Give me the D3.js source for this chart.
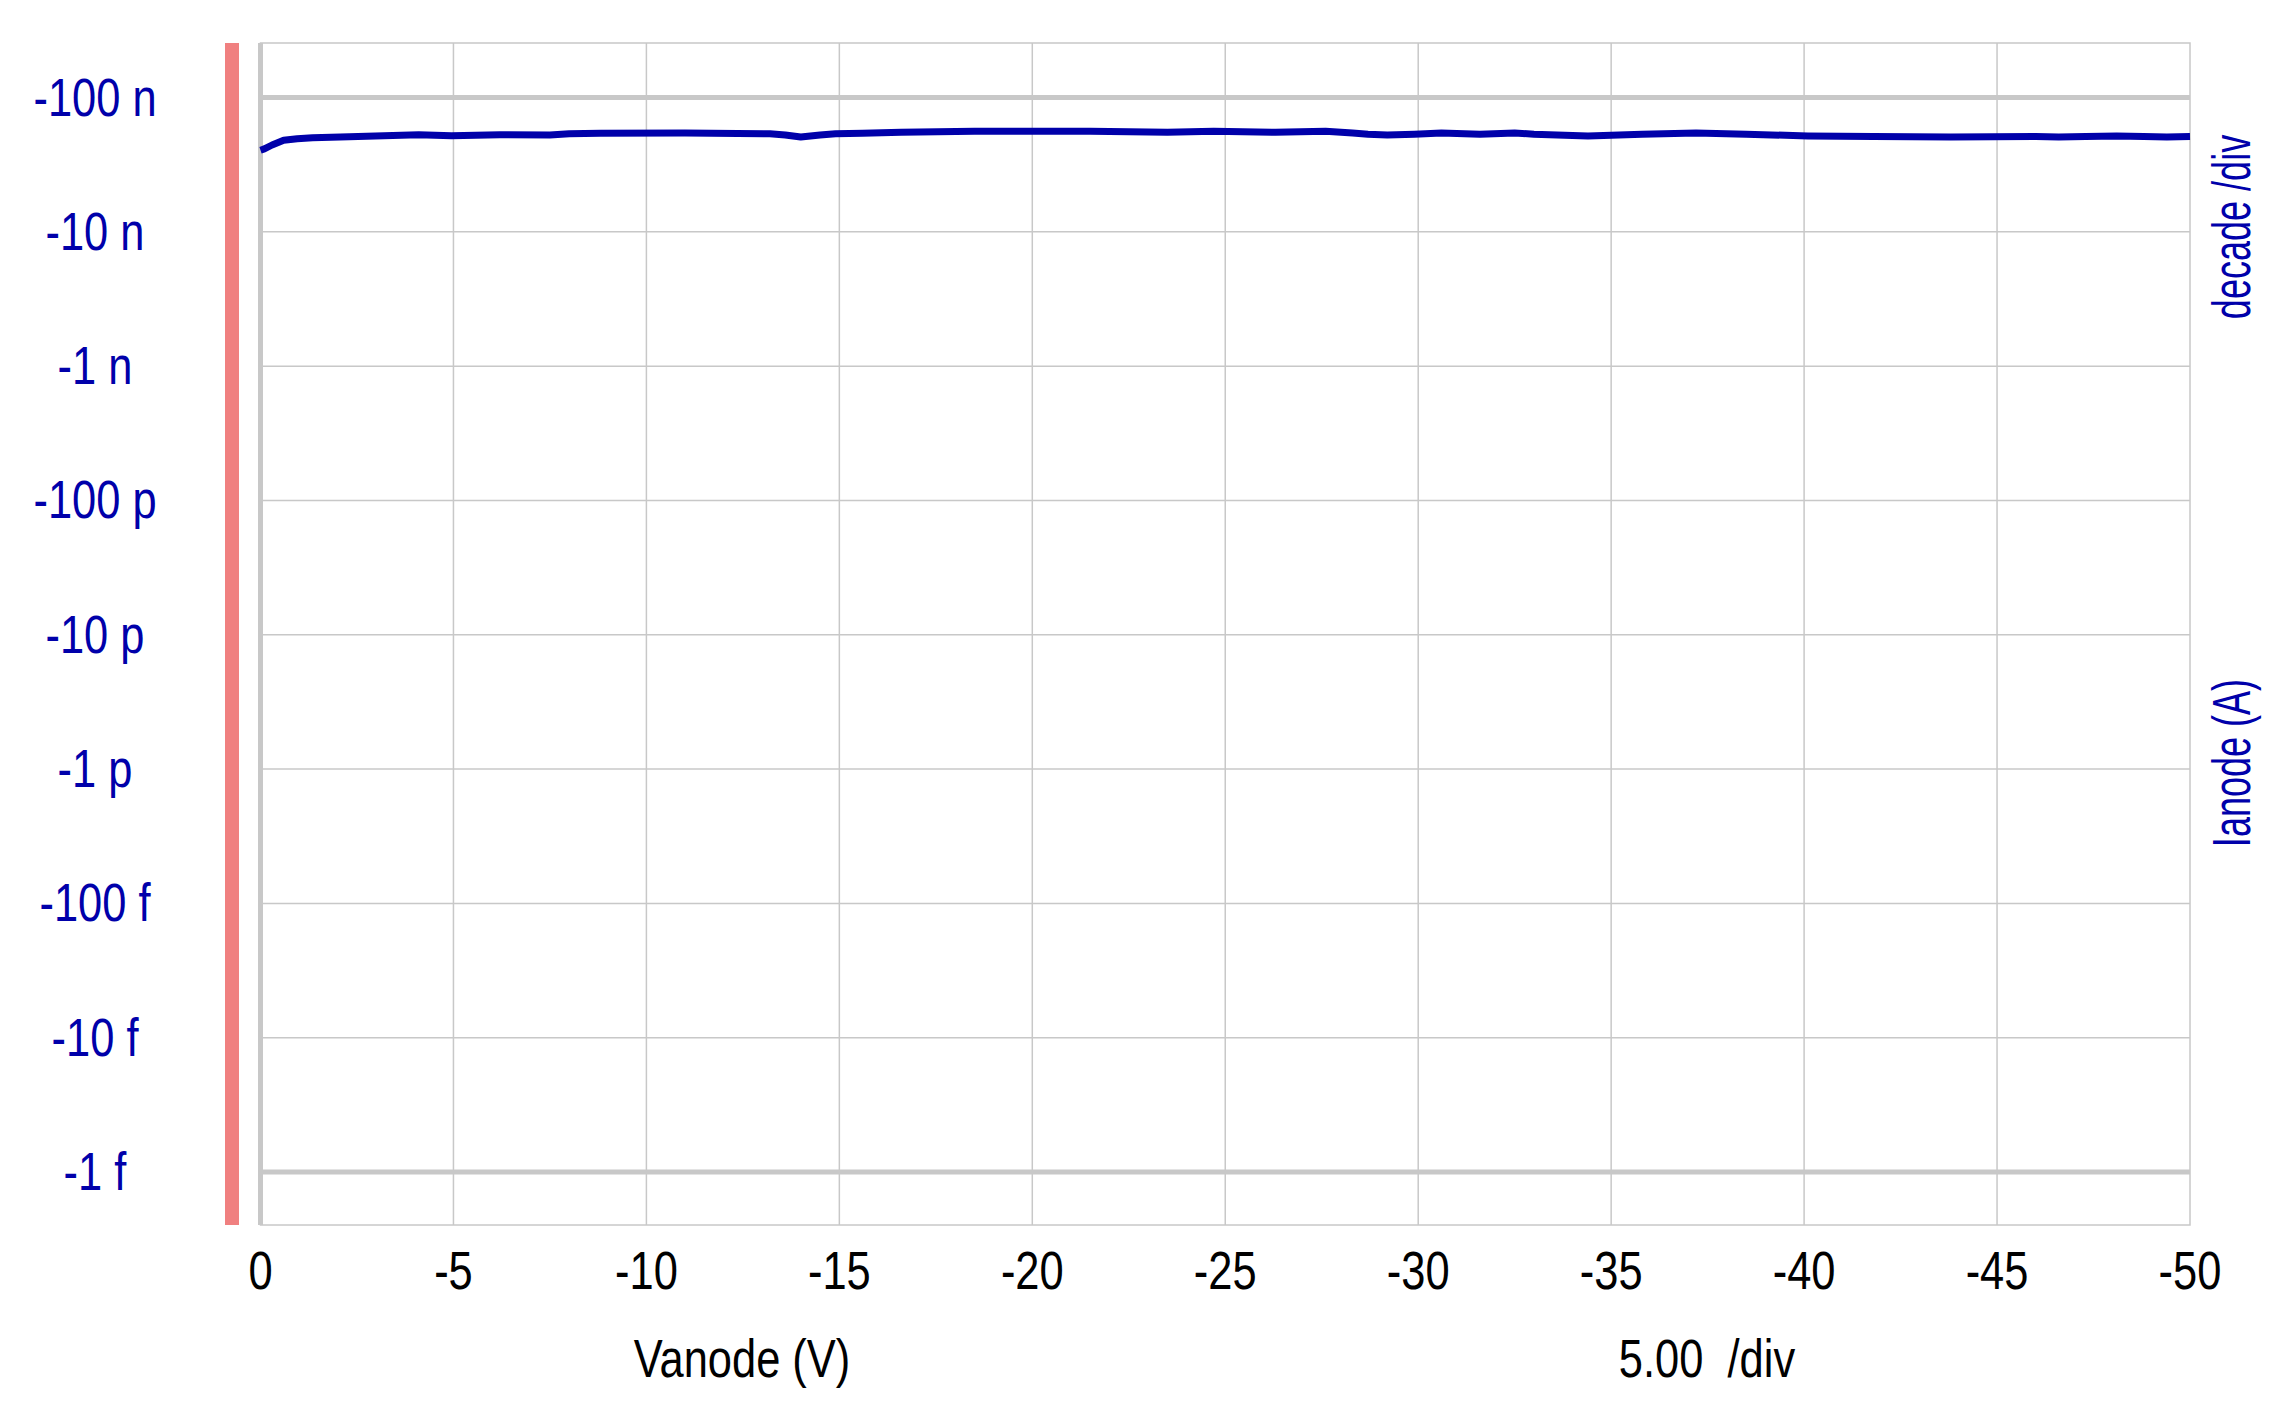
<!DOCTYPE html>
<html>
<head>
<meta charset="utf-8">
<script src="https://cdn.jsdelivr.net/npm/d3@7"></script>
<style>
  body { margin: 0; background: #fff; }
  svg { display: block; }
  text { font-family: 'Liberation Sans', Arial, sans-serif; }
</style>
</head>
<body>
<div id="chart"></div>
<script>
// Anode sweep (volts, nA)
const voltage = [0, -0.1, -0.3, -0.6, -0.95, -1.35, -2.3, -3.2, -4.1, -4.95, -6.2, -7.5, -8.0, -8.8,
  -11.0, -13.2, -13.6, -14.0, -14.5, -14.9, -15.6, -16.6, -18.5, -21.5, -23.5, -24.7, -26.3,
  -27.6, -28.3, -28.7, -29.2, -29.9, -30.6, -31.6, -32.5, -33.0, -34.4, -35.8, -37.2, -38.5,
  -40.1, -41.8, -43.8, -46.0, -46.6, -47.3, -48.1, -48.8, -49.4, -50];
const currentNA = [-40.5, -41.4, -44.3, -48.0, -49.3, -50.2, -51.0, -51.8, -52.9, -51.8, -52.9, -52.6, -53.7, -54.2,
  -54.4, -53.7, -52.6, -50.8, -52.6, -53.7, -54.2, -55.1, -56.0, -56.0, -55.1, -56.0, -55.1,
  -56.0, -54.4, -53.3, -52.6, -53.3, -54.4, -53.3, -54.4, -53.3, -51.7, -53.3, -54.4, -53.3,
  -51.7, -51.2, -50.8, -51.2, -50.8, -51.2, -51.7, -51.2, -50.8, -51.2];

const xTicks = [0, -5, -10, -15, -20, -25, -30, -35, -40, -45, -50];
const yTickValues = [1e-7, 1e-8, 1e-9, 1e-10, 1e-11, 1e-12, 1e-13, 1e-14, 1e-15];
const yTickLabels = ['-100 n', '-10 n', '-1 n', '-100 p', '-10 p', '-1 p', '-100 f', '-10 f', '-1 f'];
const xTitle = 'Vanode (V)';
const xDivLabel = '5.00  /div';
const yTitle = 'Ianode (A)';
const yDivLabel = 'decade /div';

const width = 2294;
const height = 1416;
const plot = { left: 260.5, right: 2190, top: 43, bottom: 1225 };
const fontSize = 53;
const squeeze = 0.82;
const blue = '#0000aa';
const grid = '#c8c8c8';

const svg = d3.select('#chart')
  .append('svg')
  .attr('width', width)
  .attr('height', height);

const x = d3.scaleLinear().domain([0, -50]).range([plot.left, plot.right]);
// magnitude of current on a log axis, one decade = 134.3 px
const y = d3.scaleLog().domain([1e-15, 1e-7]).range([1172, 97.5]);

// red marker bar on the left
svg.append('rect')
  .attr('x', 225).attr('y', plot.top)
  .attr('width', 14).attr('height', plot.bottom - plot.top)
  .attr('fill', '#f08080');

// vertical grid
svg.append('g')
  .selectAll('line')
  .data(xTicks.slice(1, -1))
  .enter()
  .append('line')
  .attr('x1', (d) => x(d)).attr('x2', (d) => x(d))
  .attr('y1', plot.top).attr('y2', plot.bottom)
  .attr('stroke', grid).attr('stroke-width', 1.5);

// horizontal grid, outer decades drawn heavy
svg.append('g')
  .selectAll('line')
  .data(yTickValues)
  .enter()
  .append('line')
  .attr('x1', plot.left).attr('x2', plot.right)
  .attr('y1', (d) => y(d)).attr('y2', (d) => y(d))
  .attr('stroke', grid)
  .attr('stroke-width', (d, i) => (i === 0 || i === yTickValues.length - 1 ? 5 : 1.5));

// frame
svg.append('rect')
  .attr('x', plot.left).attr('y', plot.top)
  .attr('width', plot.right - plot.left).attr('height', plot.bottom - plot.top)
  .attr('fill', 'none').attr('stroke', grid).attr('stroke-width', 1.5);
svg.append('line')
  .attr('x1', plot.left).attr('x2', plot.left)
  .attr('y1', plot.top).attr('y2', plot.bottom)
  .attr('stroke', grid).attr('stroke-width', 5);

// the curve
const points = voltage.map((v, i) => ({ v, amps: -currentNA[i] * 1e-9 }));
const line = d3.line()
  .x((d) => x(d.v))
  .y((d) => y(d.amps));

svg.append('path')
  .datum(points)
  .attr('d', line)
  .attr('fill', 'none')
  .attr('stroke', blue)
  .attr('stroke-width', 7)
  .attr('stroke-linejoin', 'round');

// y tick labels
svg.append('g')
  .selectAll('text')
  .data(yTickValues)
  .enter()
  .append('text')
  .attr('transform', (d) => `translate(95,${y(d) + 18}) scale(${squeeze},1)`)
  .attr('text-anchor', 'middle')
  .attr('font-size', fontSize)
  .attr('fill', blue)
  .text((d, i) => yTickLabels[i]);

// x tick labels
svg.append('g')
  .selectAll('text')
  .data(xTicks)
  .enter()
  .append('text')
  .attr('transform', (d) => `translate(${x(d)},1289) scale(${squeeze},1)`)
  .attr('text-anchor', 'middle')
  .attr('font-size', fontSize)
  .attr('fill', '#000')
  .text((d) => d);

svg.append('text')
  .attr('transform', `translate(742,1377) scale(${squeeze},1)`)
  .attr('text-anchor', 'middle')
  .attr('font-size', fontSize)
  .text(xTitle);

svg.append('text')
  .attr('transform', `translate(1707,1377) scale(${squeeze},1)`)
  .attr('text-anchor', 'middle')
  .attr('font-size', fontSize)
  .style('white-space', 'pre')
  .text(xDivLabel);

// right side rotated labels
svg.append('text')
  .attr('transform', `translate(2250,227) rotate(-90) scale(0.68,1)`)
  .attr('text-anchor', 'middle')
  .attr('font-size', fontSize)
  .attr('fill', blue)
  .text(yDivLabel);

svg.append('text')
  .attr('transform', `translate(2250,763) rotate(-90) scale(0.68,1)`)
  .attr('text-anchor', 'middle')
  .attr('font-size', fontSize)
  .attr('fill', blue)
  .text(yTitle);
</script>
</body>
</html>
